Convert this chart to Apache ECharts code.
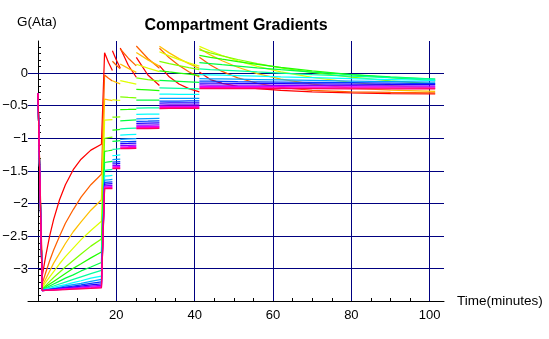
<!DOCTYPE html>
<html>
<head>
<meta charset="utf-8">
<script src="https://cdn.jsdelivr.net/npm/echarts@6/dist/echarts.min.js"></script>
<style>
html,body{margin:0;padding:0;background:#fff;}
#chart{width:549px;height:339px;}
</style>
</head>
<body>
<div id="chart"></div>
<script>
// ---- data: time (minutes) per phase, gradient G (Ata) per compartment (rows = 16 compartments, fastest first)
const bottomT = [0, 1.1, 2, 3, 4, 5.5, 7, 9, 11, 13.5, 16.2];
const bottomG = [
  [-0.31, -3.10, -2.79, -2.49, -2.24, -1.94, -1.71, -1.48, -1.32, -1.18, -1.09],
  [-0.31, -3.22, -3.05, -2.87, -2.71, -2.50, -2.30, -2.09, -1.90, -1.71, -1.55],
  [-0.31, -3.26, -3.15, -3.03, -2.91, -2.76, -2.61, -2.43, -2.28, -2.10, -1.94],
  [-0.31, -3.28, -3.20, -3.12, -3.04, -2.92, -2.81, -2.68, -2.55, -2.41, -2.27],
  [-0.31, -3.30, -3.25, -3.19, -3.13, -3.05, -2.97, -2.87, -2.77, -2.65, -2.54],
  [-0.31, -3.31, -3.27, -3.23, -3.19, -3.13, -3.07, -2.99, -2.92, -2.83, -2.74],
  [-0.31, -3.315, -3.29, -3.26, -3.23, -3.185, -3.14, -3.09, -3.03, -2.97, -2.90],
  [-0.31, -3.32, -3.30, -3.28, -3.26, -3.23, -3.20, -3.16, -3.12, -3.07, -3.02],
  [-0.31, -3.325, -3.31, -3.30, -3.28, -3.26, -3.24, -3.21, -3.18, -3.14, -3.11],
  [-0.31, -3.33, -3.32, -3.31, -3.30, -3.28, -3.26, -3.24, -3.22, -3.19, -3.16],
  [-0.31, -3.33, -3.322, -3.313, -3.304, -3.291, -3.278, -3.261, -3.244, -3.222, -3.199],
  [-0.31, -3.33, -3.324, -3.317, -3.31, -3.30, -3.289, -3.276, -3.262, -3.245, -3.227],
  [-0.31, -3.33, -3.325, -3.32, -3.314, -3.306, -3.298, -3.287, -3.277, -3.263, -3.249],
  [-0.31, -3.33, -3.326, -3.322, -3.318, -3.311, -3.305, -3.297, -3.288, -3.278, -3.266],
  [-0.31, -3.33, -3.327, -3.324, -3.32, -3.315, -3.31, -3.304, -3.297, -3.289, -3.28],
  [-0.31, -3.33, -3.328, -3.325, -3.322, -3.319, -3.315, -3.309, -3.304, -3.298, -3.291]
];
const stop1T = [17, 18, 19];
const stop1G = [
  [0.31, 0.162, 0.038], [-0.03, -0.079, -0.124], [-0.40, -0.412, -0.423], [-0.72, -0.716, -0.713],
  [-1.00, -0.99, -0.981], [-1.20, -1.19, -1.179], [-1.37, -1.36, -1.351], [-1.49, -1.482, -1.474],
  [-1.58, -1.574, -1.568], [-1.64, -1.635, -1.63], [-1.675, -1.671, -1.667], [-1.70, -1.697, -1.694],
  [-1.726, -1.7235, -1.721], [-1.744, -1.742, -1.74], [-1.758, -1.756, -1.755], [-1.77, -1.769, -1.768]
];
const stop2T = [19, 20, 21];
const stop2G = [
  [0.342, 0.199, 0.078], [0.18, 0.119, 0.063], [-0.119, -0.143, -0.165], [-0.409, -0.415, -0.42],
  [-0.677, -0.674, -0.671], [-0.875, -0.869, -0.864], [-1.047, -1.041, -1.035], [-1.17, -1.165, -1.159],
  [-1.264, -1.26, -1.255], [-1.326, -1.322, -1.319], [-1.363, -1.36, -1.357], [-1.39, -1.388, -1.385],
  [-1.417, -1.415, -1.413], [-1.436, -1.434, -1.433], [-1.451, -1.45, -1.449], [-1.464, -1.463, -1.462]
];
const stop3T = [21, 23.05, 25.1];
const stop3G = [
  [0.382, 0.119, -0.065], [0.367, 0.227, 0.109], [0.139, 0.071, 0.010], [-0.116, -0.144, -0.17],
  [-0.367, -0.374, -0.38], [-0.56, -0.558, -0.555], [-0.731, -0.725, -0.719], [-0.855, -0.848, -0.842],
  [-0.951, -0.945, -0.939], [-1.015, -1.01, -1.005], [-1.053, -1.049, -1.045], [-1.081, -1.078, -1.074],
  [-1.109, -1.106, -1.103], [-1.129, -1.127, -1.124], [-1.145, -1.143, -1.141], [-1.158, -1.157, -1.155]
];
const stop4T = [25.1, 28.05, 31];
const stop4G = [
  [0.239, -0.03, -0.192], [0.413, 0.222, 0.074], [0.314, 0.201, 0.105], [0.134, 0.075, 0.021],
  [-0.076, -0.102, -0.126], [-0.251, -0.26, -0.27], [-0.415, -0.416, -0.416], [-0.538, -0.535, -0.533],
  [-0.635, -0.631, -0.628], [-0.701, -0.697, -0.694], [-0.741, -0.738, -0.734], [-0.77, -0.767, -0.764],
  [-0.799, -0.797, -0.794], [-0.82, -0.818, -0.816], [-0.837, -0.835, -0.834], [-0.851, -0.85, -0.848]
];
const stop5T = [31, 33.5, 36, 38.5, 41.2];
const stop5G = [
  [0.112, -0.058, -0.169, -0.24, -0.289], [0.378, 0.232, 0.114, 0.02, -0.062],
  [0.409, 0.308, 0.22, 0.143, 0.072], [0.325, 0.263, 0.206, 0.154, 0.104],
  [0.178, 0.144, 0.112, 0.082, 0.051], [0.034, 0.016, -0.001, -0.018, -0.035],
  [-0.112, -0.12, -0.128, -0.136, -0.144], [-0.229, -0.232, -0.235, -0.238, -0.242],
  [-0.324, -0.325, -0.326, -0.326, -0.327], [-0.39, -0.39, -0.39, -0.389, -0.389],
  [-0.43, -0.43, -0.429, -0.428, -0.428], [-0.46, -0.459, -0.459, -0.458, -0.457],
  [-0.49, -0.489, -0.489, -0.488, -0.487], [-0.512, -0.511, -0.511, -0.51, -0.51],
  [-0.53, -0.529, -0.528, -0.528, -0.527], [-0.544, -0.543, -0.543, -0.542, -0.542]
];
const surfaceT = [41.2, 44, 47, 51, 56, 62, 70, 80, 90, 101.4];
const surfaceG = [
  [0.015, -0.10, -0.16, -0.205, -0.24, -0.265, -0.29, -0.305, -0.315, -0.32],
  [0.242, 0.123, 0.024, -0.074, -0.157, -0.219, -0.265, -0.288, -0.298, -0.303],
  [0.376, 0.277, 0.187, 0.088, -0.008, -0.094, -0.171, -0.23, -0.262, -0.282],
  [0.408, 0.337, 0.268, 0.187, 0.102, 0.019, -0.066, -0.142, -0.195, -0.235],
  [0.355, 0.309, 0.263, 0.207, 0.145, 0.08, 0.008, -0.064, -0.12, -0.168],
  [0.27, 0.241, 0.212, 0.175, 0.133, 0.088, 0.034, -0.023, -0.07, -0.115],
  [0.16, 0.144, 0.127, 0.105, 0.079, 0.05, 0.015, -0.024, -0.058, -0.092],
  [0.063, 0.053, 0.044, 0.031, 0.016, -0.001, -0.023, -0.047, -0.07, -0.093],
  [-0.023, -0.028, -0.033, -0.04, -0.049, -0.059, -0.071, -0.086, -0.1, -0.114],
  [-0.085, -0.088, -0.091, -0.095, -0.1, -0.106, -0.114, -0.123, -0.132, -0.141],
  [-0.124, -0.126, -0.128, -0.131, -0.134, -0.138, -0.143, -0.149, -0.155, -0.161],
  [-0.153, -0.154, -0.156, -0.157, -0.16, -0.162, -0.166, -0.17, -0.174, -0.178],
  [-0.183, -0.184, -0.185, -0.186, -0.187, -0.189, -0.191, -0.194, -0.196, -0.199],
  [-0.206, -0.206, -0.207, -0.207, -0.208, -0.209, -0.211, -0.213, -0.214, -0.216],
  [-0.223, -0.223, -0.224, -0.224, -0.225, -0.226, -0.226, -0.228, -0.229, -0.23],
  [-0.238, -0.238, -0.239, -0.239, -0.239, -0.24, -0.24, -0.241, -0.242, -0.243]
];
const xTickLabels = [20, 40, 60, 80, 100];
const yTickLabels = [0, -0.5, -1, -1.5, -2, -2.5, -3];
const xMinorTicks = [5, 10, 15, 20, 25, 30, 35, 40, 45, 50, 55, 60, 65, 70, 75, 80, 85, 90, 95, 100];
const yMinorTicks = [0.4, 0.3, 0.2, 0.1, 0, -0.1, -0.2, -0.3, -0.4, -0.5, -0.6, -0.7, -0.8, -0.9, -1, -1.1, -1.2, -1.3, -1.4, -1.5, -1.6, -1.7, -1.8, -1.9, -2, -2.1, -2.2, -2.3, -2.4, -2.5, -2.6, -2.7, -2.8, -2.9, -3, -3.1, -3.2, -3.3, -3.4];

// ---- styling helpers
function hueColor(h) {
  const hh = (h % 1) * 6, i = Math.floor(hh), f = hh - i;
  const q = 1 - f, t = f;
  const rgb = [[1, t, 0], [q, 1, 0], [0, 1, t], [0, q, 1], [t, 0, 1], [1, 0, q]][i];
  return 'rgb(' + rgb.map(v => Math.round(v * 255)).join(',') + ')';
}
const crisp = v => Math.round(v - 0.5) + 0.5;
const fmtY = v => (v < 0 ? '\u2212' + String(-v) : String(v));
const FONT = '"Liberation Sans", Arial, sans-serif';

const phases = [[bottomT, bottomG], [stop1T, stop1G], [stop2T, stop2G], [stop3T, stop3G],
                [stop4T, stop4G], [stop5T, stop5G], [surfaceT, surfaceG]];
const nComp = bottomG.length;
const series = [];
// grid lines, positioned through the axes' scales
series.push({
  type: 'custom', silent: true, animation: false, z: 1, clip: false,
  data: xTickLabels.map(v => [v, 0]),
  renderItem: (params, api) => {
    const cs = params.coordSys;
    const x = crisp(api.coord([api.value(0), 0])[0]);
    return { type: 'line', shape: { x1: x, y1: cs.y, x2: x, y2: cs.y + cs.height },
             style: { stroke: '#000080', lineWidth: 1 } };
  }
});
series.push({
  type: 'custom', silent: true, animation: false, z: 1, clip: false,
  data: yTickLabels.map(v => [0, v]),
  renderItem: (params, api) => {
    const cs = params.coordSys;
    const y = crisp(api.coord([0, api.value(1)])[1]);
    return { type: 'line', shape: { x1: cs.x, y1: y, x2: cs.x + cs.width, y2: y },
             style: { stroke: '#000080', lineWidth: 1 } };
  }
});
// y tick labels, placed left of the y axis (which sits at time 0)
series.push({
  type: 'custom', silent: true, animation: false, z: 5, clip: false,
  data: yTickLabels.map(v => [0, v]),
  renderItem: (params, api) => {
    const p = api.coord([0, api.value(1)]);
    return { type: 'text', x: p[0] - 10, y: p[1],
             style: { text: fmtY(api.value(1)), align: 'right', verticalAlign: 'middle',
                      font: '13px ' + FONT, fill: '#000' } };
  }
});
for (let c = 0; c < nComp; c++) {
  const data = [];
  phases.forEach(([T, G], p) => {
    if (p >= 2) data.push([T[0], '-']); // gap between stops (instant ascent not drawn)
    T.forEach((t, j) => data.push([t, G[c][j]]));
  });
  series.push({
    type: 'line', data, showSymbol: false, symbol: 'none', silent: true,
    connectNulls: false, animation: false, z: 3,
    lineStyle: { width: 1.25, color: hueColor(c / 16) }
  });
}

const chart = echarts.init(document.getElementById('chart'), null, { renderer: 'canvas' });
chart.setOption({
  animation: false,
  backgroundColor: '#ffffff',
  grid: { left: 28, right: 105, top: 41, bottom: 38, containLabel: false, outerBoundsMode: 'none' },
  xAxis: {
    type: 'value', min: -2.55, max: 103.65,
    axisLine: { show: true, onZero: false, lineStyle: { color: '#000', width: 1 } },
    axisTick: { show: true, inside: true, length: 3, customValues: xMinorTicks, lineStyle: { color: '#000' } },
    axisLabel: { show: true, customValues: xTickLabels, margin: 8, color: '#000',
                 fontFamily: FONT, fontSize: 13 },
    splitLine: { show: false }
  },
  yAxis: {
    type: 'value', min: -3.49, max: 0.49,
    axisLine: { show: true, onZero: true, lineStyle: { color: '#000', width: 1 } },
    axisTick: { show: true, inside: true, length: 3, customValues: yMinorTicks, lineStyle: { color: '#000' } },
    axisLabel: { show: false },
    splitLine: { show: false }
  },
  graphic: [
    { type: 'text', x: 236, y: 26, silent: true,
      style: { text: 'Compartment Gradients', align: 'center', verticalAlign: 'middle',
               font: 'bold 16px ' + FONT, fill: '#000' } },
    { type: 'text', x: 17, y: 22, silent: true,
      style: { text: 'G(Ata)', align: 'left', verticalAlign: 'middle',
               font: '13.5px ' + FONT, fill: '#000' } },
    { type: 'text', x: 457, y: 301, silent: true,
      style: { text: 'Time(minutes)', align: 'left', verticalAlign: 'middle',
               font: '13.5px ' + FONT, fill: '#000' } }
  ],
  series
});
</script>
</body>
</html>
